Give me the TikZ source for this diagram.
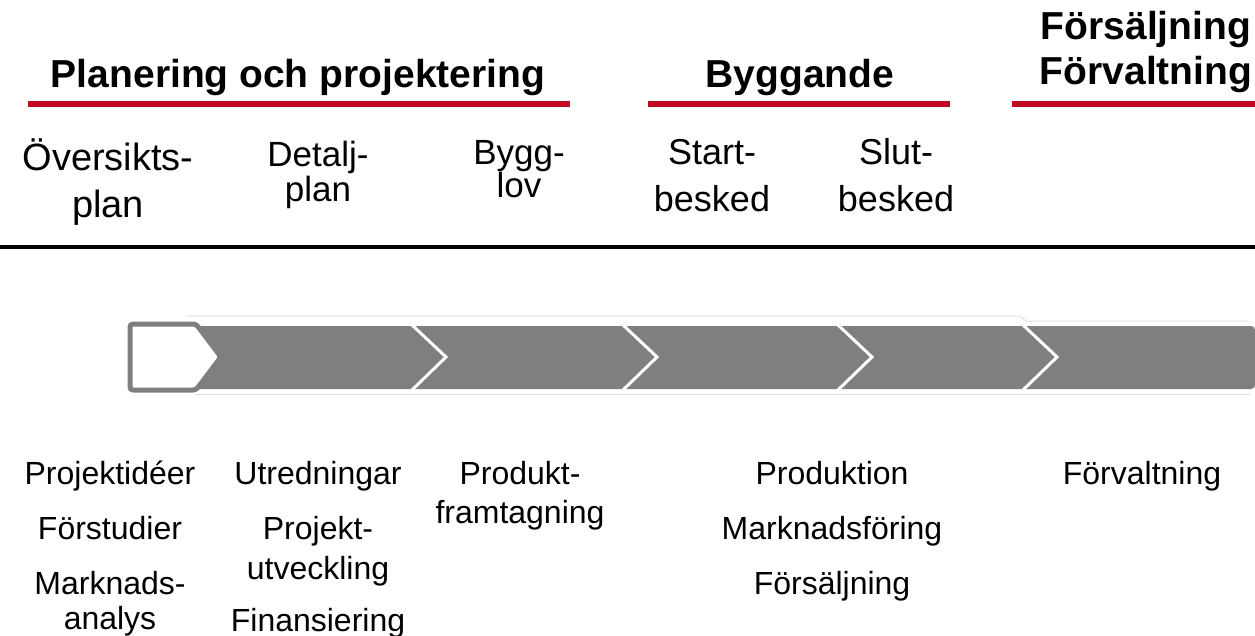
\documentclass[tikz,border=0pt]{standalone}
\usepackage{fontspec}
\setmainfont{Liberation Sans}
\usetikzlibrary{positioning}
\definecolor{fasred}{RGB}{192,10,36}
\definecolor{bandgray}{RGB}{127,127,127}
\tikzset{
  phase/.style={font=\fontsize{39}{39}\selectfont\bfseries, anchor=base},
  milestone/.style={font=\fontsize{36}{36}\selectfont, anchor=base},
  activity/.style={font=\fontsize{32}{32}\selectfont, anchor=base},
  phaseline/.style={draw=fasred, line width=6pt},
  chevron/.style={draw=white, line width=3pt},
}

\begin{document}
\begin{tikzpicture}[x=1pt,y=-1pt]
\useasboundingbox (0,0) rectangle (1255,636);
% phases
\node[phase] (planering) at (298,88) {Planering och projektering};
\node[phase] (byggande) at (800,88) {Byggande};
\node[phase] (forsalj) at (1146,40) {Försäljning};
\node[phase] (forvalt) at (1146,85) {Förvaltning};
\draw[phaseline] (28,104) -- (570,104);
\draw[phaseline] (648,104) -- (950,104);
\draw[phaseline] (1012,104) -- (1255,104);
% milestones
\node[milestone, font=\fontsize{38}{38}\selectfont] (oversikt) at (108,171) {Översikts-};
\node[milestone, font=\fontsize{38}{38}\selectfont] (oversiktb) at (108,218) {plan};
\node[milestone, font=\fontsize{35}{35}\selectfont] (detalj) at (318,167) {Detalj-};
\node[milestone, font=\fontsize{35}{35}\selectfont] (detaljb) at (318,202) {plan};
\node[milestone, font=\fontsize{35}{35}\selectfont] (bygglov) at (519,165) {Bygg-};
\node[milestone, font=\fontsize{35}{35}\selectfont] (bygglovb) at (519,198) {lov};
\node[milestone] (start) at (712,165) {Start-};
\node[milestone] (startb) at (712,212) {besked};
\node[milestone] (slut) at (896,165) {Slut-};
\node[milestone] (slutb) at (896,212) {besked};
\draw[line width=3.5pt] (0,247) -- (1255,247);
% process band
\draw[gray!25, line width=1pt] (187,316) -- (1020,316) -- (1026,321) -- (1248,321);
\draw[gray!25, line width=1pt] (195,394) -- (1250,394);
\fill[bandgray, rounded corners=4pt] (186,326) rectangle (1255,389);
\draw[draw=bandgray, fill=white, line width=5pt, rounded corners=3pt]
  (130,324) -- (196,324) -- (221,357) -- (196,390) -- (130,390) -- cycle;
\foreach \x in {412,623,838,1023}
  \draw[chevron] (\x,325) -- (\x+34,357) -- (\x,390);
% activities
\node[activity] (ideer) at (110,484) {Projektidéer};
\node[activity] (studier) at (110,539) {Förstudier};
\node[activity] (analys) at (110,594) {Marknads-};
\node[activity] (analysb) at (110,629) {analys};
\node[activity] (utred) at (318,484) {Utredningar};
\node[activity] (utveckl) at (318,539) {Projekt-};
\node[activity] (utvecklb) at (318,579) {utveckling};
\node[activity] (finans) at (318,631) {Finansiering};
\node[activity] (produkt) at (520,484) {Produkt-};
\node[activity] (produktb) at (520,523) {framtagning};
\node[activity] (produktion) at (832,484) {Produktion};
\node[activity] (marknad) at (832,539) {Marknadsföring};
\node[activity] (salj) at (832,594) {Försäljning};
\node[activity] (forvaltning) at (1142,484) {Förvaltning};
\end{tikzpicture}
\end{document}
